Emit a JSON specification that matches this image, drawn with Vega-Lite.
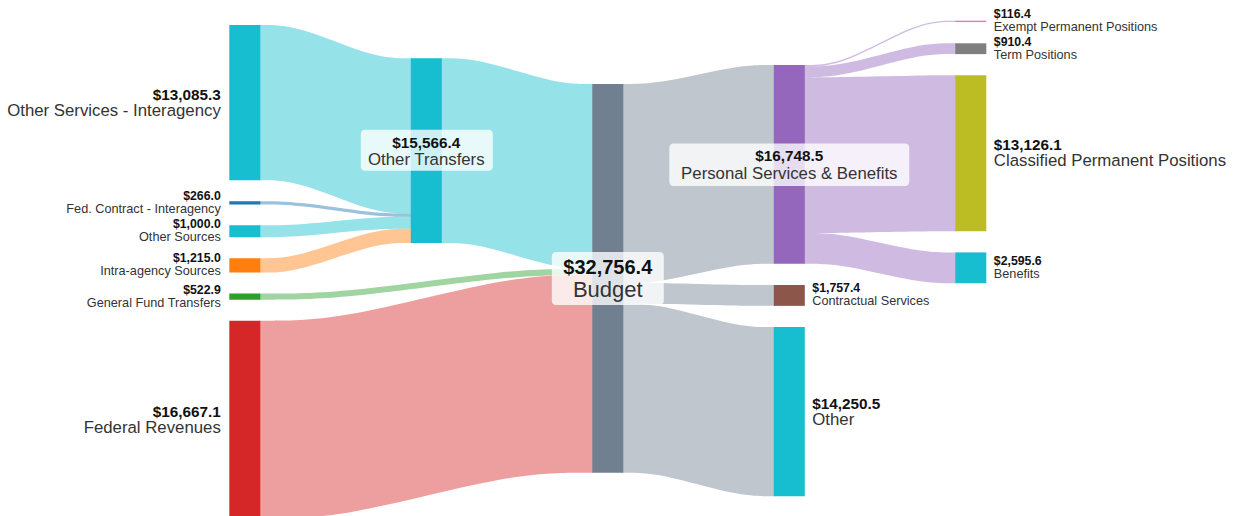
{
  "$schema": "https://vega.github.io/schema/vega-lite/v6.json",
  "width": 1233,
  "height": 516,
  "padding": 0,
  "autosize": {"type": "none"},
  "background": "white",
  "config": {"view": {"stroke": null}, "text": {"font": "Liberation Sans"}},
  "datasets": {
    "nodes": [
      {"name": "Other Services - Interagency", "value": 13085.3, "stage": 0, "kind": "in", "y0": 2106, "y1": 15191.3},
      {"name": "Fed. Contract - Interagency", "value": 266.0, "stage": 0, "kind": "in", "y0": 16955.3, "y1": 17221.3},
      {"name": "Other Sources", "value": 1000.0, "stage": 0, "kind": "in", "y0": 18985.3, "y1": 19985.3},
      {"name": "Intra-agency Sources", "value": 1215.0, "stage": 0, "kind": "in", "y0": 21749.3, "y1": 22964.3},
      {"name": "General Fund Transfers", "value": 522.9, "stage": 0, "kind": "in", "y0": 24728.3, "y1": 25251.2},
      {"name": "Federal Revenues", "value": 16667.1, "stage": 0, "kind": "in", "y0": 27015.2, "y1": 43682.3},
      {"name": "Other Transfers", "value": 15566.4, "stage": 1, "kind": "mid", "y0": 4911, "y1": 20477.4},
      {"name": "Budget", "value": 32756.4, "stage": 2, "kind": "mid", "y0": 7077, "y1": 39833.4},
      {"name": "Personal Services & Benefits", "value": 16748.5, "stage": 3, "kind": "mid", "y0": 5476, "y1": 22224.5},
      {"name": "Contractual Services", "value": 1757.4, "stage": 3, "kind": "out", "y0": 24010, "y1": 25767.4},
      {"name": "Other", "value": 14250.5, "stage": 3, "kind": "out", "y0": 27557.4, "y1": 41807.9},
      {"name": "Exempt Permanent Positions", "value": 116.4, "stage": 4, "kind": "out", "y0": 1741.6, "y1": 1858},
      {"name": "Term Positions", "value": 910.4, "stage": 4, "kind": "out", "y0": 3648, "y1": 4558.4},
      {"name": "Classified Permanent Positions", "value": 13126.1, "stage": 4, "kind": "out", "y0": 6348.4, "y1": 19474.5},
      {"name": "Benefits", "value": 2595.6, "stage": 4, "kind": "out", "y0": 21264.5, "y1": 23860.1}
    ],
    "links": [
      {"link": 1, "source": "Other Services - Interagency", "target": "Other Transfers", "value": 13085.3, "x": 0.08, "y": 2106, "y2": 15191.3},
      {"link": 1, "source": "Other Services - Interagency", "target": "Other Transfers", "value": 13085.3, "x": 0.29, "y": 2106, "y2": 15191.3},
      {"link": 1, "source": "Other Services - Interagency", "target": "Other Transfers", "value": 13085.3, "x": 0.71, "y": 4911, "y2": 17996.3},
      {"link": 1, "source": "Other Services - Interagency", "target": "Other Transfers", "value": 13085.3, "x": 0.92, "y": 4911, "y2": 17996.3},
      {"link": 2, "source": "Fed. Contract - Interagency", "target": "Other Transfers", "value": 266.0, "x": 0.08, "y": 16955.3, "y2": 17221.3},
      {"link": 2, "source": "Fed. Contract - Interagency", "target": "Other Transfers", "value": 266.0, "x": 0.29, "y": 16955.3, "y2": 17221.3},
      {"link": 2, "source": "Fed. Contract - Interagency", "target": "Other Transfers", "value": 266.0, "x": 0.71, "y": 17996.3, "y2": 18262.3},
      {"link": 2, "source": "Fed. Contract - Interagency", "target": "Other Transfers", "value": 266.0, "x": 0.92, "y": 17996.3, "y2": 18262.3},
      {"link": 3, "source": "Other Sources", "target": "Other Transfers", "value": 1000.0, "x": 0.08, "y": 18985.3, "y2": 19985.3},
      {"link": 3, "source": "Other Sources", "target": "Other Transfers", "value": 1000.0, "x": 0.29, "y": 18985.3, "y2": 19985.3},
      {"link": 3, "source": "Other Sources", "target": "Other Transfers", "value": 1000.0, "x": 0.71, "y": 18262.3, "y2": 19262.3},
      {"link": 3, "source": "Other Sources", "target": "Other Transfers", "value": 1000.0, "x": 0.92, "y": 18262.3, "y2": 19262.3},
      {"link": 4, "source": "Intra-agency Sources", "target": "Other Transfers", "value": 1215.0, "x": 0.08, "y": 21749.3, "y2": 22964.3},
      {"link": 4, "source": "Intra-agency Sources", "target": "Other Transfers", "value": 1215.0, "x": 0.29, "y": 21749.3, "y2": 22964.3},
      {"link": 4, "source": "Intra-agency Sources", "target": "Other Transfers", "value": 1215.0, "x": 0.71, "y": 19262.3, "y2": 20477.3},
      {"link": 4, "source": "Intra-agency Sources", "target": "Other Transfers", "value": 1215.0, "x": 0.92, "y": 19262.3, "y2": 20477.3},
      {"link": 5, "source": "Other Transfers", "target": "Budget", "value": 15566.4, "x": 1.08, "y": 4911, "y2": 20477.4},
      {"link": 5, "source": "Other Transfers", "target": "Budget", "value": 15566.4, "x": 1.29, "y": 4911, "y2": 20477.4},
      {"link": 5, "source": "Other Transfers", "target": "Budget", "value": 15566.4, "x": 1.71, "y": 7077, "y2": 22643.4},
      {"link": 5, "source": "Other Transfers", "target": "Budget", "value": 15566.4, "x": 1.92, "y": 7077, "y2": 22643.4},
      {"link": 6, "source": "General Fund Transfers", "target": "Budget", "value": 522.9, "x": 0.08, "y": 24728.3, "y2": 25251.2},
      {"link": 6, "source": "General Fund Transfers", "target": "Budget", "value": 522.9, "x": 0.54, "y": 24728.3, "y2": 25251.2},
      {"link": 6, "source": "General Fund Transfers", "target": "Budget", "value": 522.9, "x": 1.46, "y": 22643.4, "y2": 23166.3},
      {"link": 6, "source": "General Fund Transfers", "target": "Budget", "value": 522.9, "x": 1.92, "y": 22643.4, "y2": 23166.3},
      {"link": 7, "source": "Federal Revenues", "target": "Budget", "value": 16667.1, "x": 0.08, "y": 27015.2, "y2": 43682.3},
      {"link": 7, "source": "Federal Revenues", "target": "Budget", "value": 16667.1, "x": 0.54, "y": 27015.2, "y2": 43682.3},
      {"link": 7, "source": "Federal Revenues", "target": "Budget", "value": 16667.1, "x": 1.46, "y": 23166.3, "y2": 39833.4},
      {"link": 7, "source": "Federal Revenues", "target": "Budget", "value": 16667.1, "x": 1.92, "y": 23166.3, "y2": 39833.4},
      {"link": 8, "source": "Budget", "target": "Personal Services & Benefits", "value": 16748.5, "x": 2.08, "y": 7077, "y2": 23825.5},
      {"link": 8, "source": "Budget", "target": "Personal Services & Benefits", "value": 16748.5, "x": 2.29, "y": 7077, "y2": 23825.5},
      {"link": 8, "source": "Budget", "target": "Personal Services & Benefits", "value": 16748.5, "x": 2.71, "y": 5476, "y2": 22224.5},
      {"link": 8, "source": "Budget", "target": "Personal Services & Benefits", "value": 16748.5, "x": 2.92, "y": 5476, "y2": 22224.5},
      {"link": 9, "source": "Budget", "target": "Contractual Services", "value": 1757.4, "x": 2.08, "y": 23825.5, "y2": 25582.9},
      {"link": 9, "source": "Budget", "target": "Contractual Services", "value": 1757.4, "x": 2.29, "y": 23825.5, "y2": 25582.9},
      {"link": 9, "source": "Budget", "target": "Contractual Services", "value": 1757.4, "x": 2.71, "y": 24010, "y2": 25767.4},
      {"link": 9, "source": "Budget", "target": "Contractual Services", "value": 1757.4, "x": 2.92, "y": 24010, "y2": 25767.4},
      {"link": 10, "source": "Budget", "target": "Other", "value": 14250.5, "x": 2.08, "y": 25582.9, "y2": 39833.4},
      {"link": 10, "source": "Budget", "target": "Other", "value": 14250.5, "x": 2.29, "y": 25582.9, "y2": 39833.4},
      {"link": 10, "source": "Budget", "target": "Other", "value": 14250.5, "x": 2.71, "y": 27557.4, "y2": 41807.9},
      {"link": 10, "source": "Budget", "target": "Other", "value": 14250.5, "x": 2.92, "y": 27557.4, "y2": 41807.9},
      {"link": 11, "source": "Personal Services & Benefits", "target": "Exempt Permanent Positions", "value": 116.4, "x": 3.08, "y": 5476, "y2": 5592.4},
      {"link": 11, "source": "Personal Services & Benefits", "target": "Exempt Permanent Positions", "value": 116.4, "x": 3.29, "y": 5476, "y2": 5592.4},
      {"link": 11, "source": "Personal Services & Benefits", "target": "Exempt Permanent Positions", "value": 116.4, "x": 3.71, "y": 1741.6, "y2": 1858},
      {"link": 11, "source": "Personal Services & Benefits", "target": "Exempt Permanent Positions", "value": 116.4, "x": 3.92, "y": 1741.6, "y2": 1858},
      {"link": 12, "source": "Personal Services & Benefits", "target": "Term Positions", "value": 910.4, "x": 3.08, "y": 5592.4, "y2": 6502.8},
      {"link": 12, "source": "Personal Services & Benefits", "target": "Term Positions", "value": 910.4, "x": 3.29, "y": 5592.4, "y2": 6502.8},
      {"link": 12, "source": "Personal Services & Benefits", "target": "Term Positions", "value": 910.4, "x": 3.71, "y": 3648, "y2": 4558.4},
      {"link": 12, "source": "Personal Services & Benefits", "target": "Term Positions", "value": 910.4, "x": 3.92, "y": 3648, "y2": 4558.4},
      {"link": 13, "source": "Personal Services & Benefits", "target": "Classified Permanent Positions", "value": 13126.1, "x": 3.08, "y": 6502.8, "y2": 19628.9},
      {"link": 13, "source": "Personal Services & Benefits", "target": "Classified Permanent Positions", "value": 13126.1, "x": 3.29, "y": 6502.8, "y2": 19628.9},
      {"link": 13, "source": "Personal Services & Benefits", "target": "Classified Permanent Positions", "value": 13126.1, "x": 3.71, "y": 6348.4, "y2": 19474.5},
      {"link": 13, "source": "Personal Services & Benefits", "target": "Classified Permanent Positions", "value": 13126.1, "x": 3.92, "y": 6348.4, "y2": 19474.5},
      {"link": 14, "source": "Personal Services & Benefits", "target": "Benefits", "value": 2595.6, "x": 3.08, "y": 19628.9, "y2": 22224.5},
      {"link": 14, "source": "Personal Services & Benefits", "target": "Benefits", "value": 2595.6, "x": 3.29, "y": 19628.9, "y2": 22224.5},
      {"link": 14, "source": "Personal Services & Benefits", "target": "Benefits", "value": 2595.6, "x": 3.71, "y": 21264.5, "y2": 23860.1},
      {"link": 14, "source": "Personal Services & Benefits", "target": "Benefits", "value": 2595.6, "x": 3.92, "y": 21264.5, "y2": 23860.1}
    ]
  },
  "resolve": {"scale": {"size": "independent"}},
  "layer": [
    {
      "data": {"name": "links"},
      "mark": {"type": "area", "interpolate": "basis", "fillOpacity": 0.45, "clip": true},
      "encoding": {
        "x": {"field": "x", "type": "quantitative", "axis": null, "scale": {"domain": [-1.3488, 5.4446], "nice": false, "zero": false}},
        "y": {"field": "y", "type": "quantitative", "axis": null, "scale": {"domain": [0, 43471], "reverse": true, "nice": false, "zero": false}},
        "y2": {"field": "y2"},
        "detail": {"field": "link", "type": "nominal"},
        "color": {
          "field": "source", "type": "nominal", "legend": null,
          "scale": {
            "domain": ["Other Services - Interagency", "Fed. Contract - Interagency", "Other Sources", "Intra-agency Sources", "General Fund Transfers", "Federal Revenues", "Other Transfers", "Budget", "Personal Services & Benefits", "Contractual Services", "Other", "Exempt Permanent Positions", "Term Positions", "Classified Permanent Positions", "Benefits"],
            "range": ["#17becf", "#1f77b4", "#17becf", "#ff7f0e", "#2ca02c", "#d62728", "#17becf", "#708090", "#9467bd", "#8c564b", "#17becf", "#e377c2", "#7f7f7f", "#bcbd22", "#17becf"]
          }
        }
      }
    },
    {
      "data": {"name": "nodes"},
      "mark": {"type": "rect", "xOffset": -15.5, "x2Offset": 15.5, "clip": true},
      "encoding": {
        "x": {"field": "stage", "type": "quantitative", "axis": null},
        "x2": {"field": "stage"},
        "y": {"field": "y0", "type": "quantitative", "axis": null},
        "y2": {"field": "y1"},
        "color": {"field": "name", "type": "nominal", "legend": null}
      }
    },
    {
      "data": {"name": "nodes"},
      "transform": [{"filter": "datum.name === 'Other Transfers'"}, {"calculate": "(datum.y0 + datum.y1) / 2", "as": "mid"}],
      "mark": {"type": "rect", "fill": "white", "fillOpacity": 0.78, "cornerRadius": 4, "xOffset": -65.5, "x2Offset": 66.5, "yOffset": -21, "y2Offset": 20},
      "encoding": {
        "x": {"field": "stage", "type": "quantitative"},
        "x2": {"field": "stage"},
        "y": {"field": "mid", "type": "quantitative"},
        "y2": {"field": "mid"}
      }
    },
    {
      "data": {"name": "nodes"},
      "transform": [{"filter": "datum.name === 'Budget'"}, {"calculate": "(datum.y0 + datum.y1) / 2", "as": "mid"}],
      "mark": {"type": "rect", "fill": "white", "fillOpacity": 0.78, "cornerRadius": 4, "xOffset": -56, "x2Offset": 56, "yOffset": -26.5, "y2Offset": 26.5},
      "encoding": {
        "x": {"field": "stage", "type": "quantitative"},
        "x2": {"field": "stage"},
        "y": {"field": "mid", "type": "quantitative"},
        "y2": {"field": "mid"}
      }
    },
    {
      "data": {"name": "nodes"},
      "transform": [{"filter": "datum.name === 'Personal Services & Benefits'"}, {"calculate": "(datum.y0 + datum.y1) / 2", "as": "mid"}],
      "mark": {"type": "rect", "fill": "white", "fillOpacity": 0.78, "cornerRadius": 4, "xOffset": -120, "x2Offset": 120, "yOffset": -21, "y2Offset": 21.5},
      "encoding": {
        "x": {"field": "stage", "type": "quantitative"},
        "x2": {"field": "stage"},
        "y": {"field": "mid", "type": "quantitative"},
        "y2": {"field": "mid"}
      }
    },
    {
      "data": {"name": "nodes"},
      "transform": [{"filter": "datum.kind === 'in'"}, {"calculate": "(datum.y0 + datum.y1) / 2", "as": "mid"}],
      "mark": {"type": "text", "align": "right", "baseline": "bottom", "dx": -24, "fontWeight": "bold", "fill": "#111"},
      "encoding": {
        "x": {"field": "stage", "type": "quantitative"},
        "y": {"field": "mid", "type": "quantitative"},
        "text": {"field": "value", "type": "quantitative", "format": "$,.1f"},
        "size": {"field": "value", "type": "quantitative", "legend": null, "scale": {"type": "threshold", "domain": [5000, 30000], "range": [12.3, 15.3, 20]}}
      }
    },
    {
      "data": {"name": "nodes"},
      "transform": [{"filter": "datum.kind === 'in'"}, {"calculate": "(datum.y0 + datum.y1) / 2", "as": "mid"}],
      "mark": {"type": "text", "align": "right", "baseline": "top", "dx": -24, "fill": "#333"},
      "encoding": {
        "x": {"field": "stage", "type": "quantitative"},
        "y": {"field": "mid", "type": "quantitative"},
        "text": {"field": "name", "type": "nominal"},
        "size": {"field": "value", "type": "quantitative", "legend": null, "scale": {"type": "threshold", "domain": [5000, 30000], "range": [12.7, 16.8, 22]}}
      }
    },
    {
      "data": {"name": "nodes"},
      "transform": [{"filter": "datum.kind === 'out'"}, {"calculate": "(datum.y0 + datum.y1) / 2", "as": "mid"}],
      "mark": {"type": "text", "align": "left", "baseline": "bottom", "dx": 23, "fontWeight": "bold", "fill": "#111"},
      "encoding": {
        "x": {"field": "stage", "type": "quantitative"},
        "y": {"field": "mid", "type": "quantitative"},
        "text": {"field": "value", "type": "quantitative", "format": "$,.1f"},
        "size": {"field": "value", "type": "quantitative", "legend": null, "scale": {"type": "threshold", "domain": [5000, 30000], "range": [12.3, 15.3, 20]}}
      }
    },
    {
      "data": {"name": "nodes"},
      "transform": [{"filter": "datum.kind === 'out'"}, {"calculate": "(datum.y0 + datum.y1) / 2", "as": "mid"}],
      "mark": {"type": "text", "align": "left", "baseline": "top", "dx": 23, "fill": "#333"},
      "encoding": {
        "x": {"field": "stage", "type": "quantitative"},
        "y": {"field": "mid", "type": "quantitative"},
        "text": {"field": "name", "type": "nominal"},
        "size": {"field": "value", "type": "quantitative", "legend": null, "scale": {"type": "threshold", "domain": [5000, 30000], "range": [12.7, 16.8, 22]}}
      }
    },
    {
      "data": {"name": "nodes"},
      "transform": [{"filter": "datum.kind === 'mid'"}, {"calculate": "(datum.y0 + datum.y1) / 2", "as": "mid"}],
      "mark": {"type": "text", "align": "center", "baseline": "bottom", "fontWeight": "bold", "fill": "#111"},
      "encoding": {
        "x": {"field": "stage", "type": "quantitative"},
        "y": {"field": "mid", "type": "quantitative"},
        "text": {"field": "value", "type": "quantitative", "format": "$,.1f"},
        "size": {"field": "value", "type": "quantitative", "legend": null, "scale": {"type": "threshold", "domain": [5000, 30000], "range": [12.3, 15.3, 20]}}
      }
    },
    {
      "data": {"name": "nodes"},
      "transform": [{"filter": "datum.kind === 'mid'"}, {"calculate": "(datum.y0 + datum.y1) / 2", "as": "mid"}],
      "mark": {"type": "text", "align": "center", "baseline": "top", "dy": 1.5, "fill": "#333"},
      "encoding": {
        "x": {"field": "stage", "type": "quantitative"},
        "y": {"field": "mid", "type": "quantitative"},
        "text": {"field": "name", "type": "nominal"},
        "size": {"field": "value", "type": "quantitative", "legend": null, "scale": {"type": "threshold", "domain": [5000, 30000], "range": [12.7, 16.8, 22]}}
      }
    }
  ]
}
